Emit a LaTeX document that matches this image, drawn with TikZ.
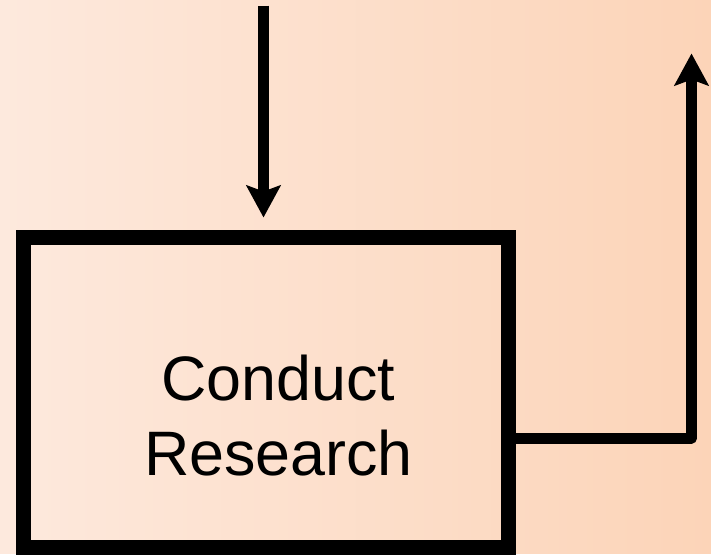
\documentclass[tikz,border=0pt]{standalone}
\usepackage{fontspec}
\setmainfont{Liberation Sans}
\usetikzlibrary{arrows.meta}

\definecolor{peachL}{RGB}{253,233,221}
\definecolor{peachR}{RGB}{252,212,184}

\begin{document}
\begin{tikzpicture}[x=1pt,y=-1pt,
  flow/.style={line width=11pt,line join=round,-{Stealth[length=32pt,width=34pt,inset=6pt]}},
  stagebox/.style={draw,line width=15pt,inner sep=0pt,minimum width=484.5pt,minimum height=310.5pt}]
\shade[left color=peachL,right color=peachR] (0,0) rectangle (711,553);

\node[stagebox] (box) at (265.75,391.75) {};
\node[align=center,font=\fontsize{62.8}{75}\selectfont] (lbl) at (278.5,415) {Conduct\\Research};

\coordinate (src) at (263.5,5);
\coordinate (turn) at (691.5,437.5);
\coordinate (goal) at (691.5,53);

\draw[flow] (src) -- ([yshift=12pt]src |- box.north);
\draw[flow] (turn -| box.east) -- (turn) -- (goal);
\end{tikzpicture}
\end{document}
